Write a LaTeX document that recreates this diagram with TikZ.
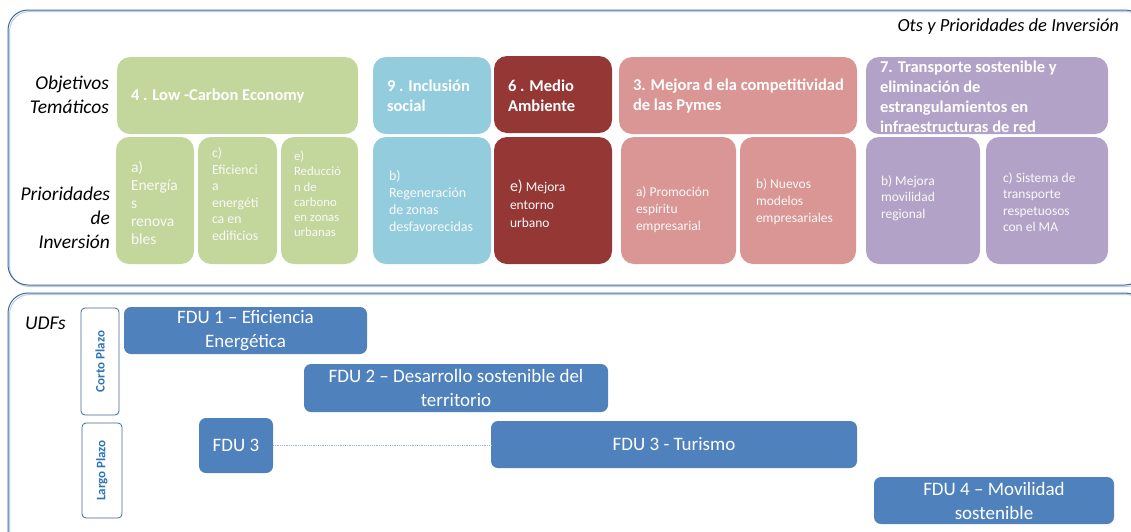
\documentclass[tikz,border=0pt]{standalone}
\usepackage{fontspec}
\setmainfont{Carlito}
\definecolor{gr}{HTML}{C3D69B}
\definecolor{bl}{HTML}{93CDDD}
\definecolor{rd}{HTML}{953735}
\definecolor{pk}{HTML}{D99694}
\definecolor{pu}{HTML}{B3A2C7}
\definecolor{fdu}{HTML}{4F81BD}
\definecolor{frm}{HTML}{41679A}
\definecolor{frl}{HTML}{B9CDE5}
\definecolor{plazo}{HTML}{2E75B6}
\definecolor{dots}{HTML}{8EB4E3}
\newcommand\rbox[6]{%
  \pgfmathsetmacro\myBW{#5-#3}\pgfmathsetmacro\myBH{#6-#4}%
  \node[#1, minimum width=\myBW pt, minimum height=\myBH pt, anchor=north west] (#2) at (#3,#4) {};}
\tikzset{
  base/.style={inner sep=0pt, outer sep=0pt, draw=none},
  cbox/.style={base, rounded corners=13pt},
  gbox/.style={cbox, fill=gr},
  bbox/.style={cbox, fill=bl},
  rbx/.style={cbox, fill=rd},
  pbox/.style={cbox, fill=pk},
  ubox/.style={cbox, fill=pu},
  fbox/.style={base, fill=fdu, rounded corners=7pt, text=white, align=center,
     font=\fontsize{19}{24}\selectfont},
  plbox/.style={base, draw=frm, line width=0.8pt, fill=white, rounded corners=4pt},
  pltxt/.style={base, rotate=90, text=plazo, font=\fontsize{13}{15}\selectfont\bfseries},
  head/.style={base, anchor=west, align=left, text=white, font=\fontsize{16.5}{20}\selectfont\bfseries},
  sub/.style={base, anchor=west, align=left, text=white!95!gray},
  lab/.style={base, align=right, font=\fontsize{19.5}{24}\selectfont\itshape},
  frame/.style={draw=frm, line width=1pt, rounded corners=20pt},
  frameshade/.style={draw=frl, line width=1pt, rounded corners=20pt},
  link/.style={draw=dots, line width=0.8pt, densely dotted}
}
\begin{document}
\begin{tikzpicture}[x=1pt,y=-1pt]
\useasboundingbox (0,0) rectangle (1131,531);
\clip (0,0) rectangle (1131,531);
% frames
\draw[frameshade] (9.5,11.5) rectangle (1146,286.5);
\draw[frame] (8,10) rectangle (1145,285);
\draw[frameshade] (9.5,294.5) rectangle (1146,560);
\draw[frame] (8,293) rectangle (1145,560);
% labels
\node[base, anchor=east, font=\fontsize{18.5}{20}\selectfont\itshape] (title) at (1119,27) {Ots y Prioridades de Inversión};
\node[lab, anchor=east] (obj) at (109,95) {Objetivos\\Temáticos};
\node[lab, anchor=east] (prio) at (110,218) {Prioridades\\de\\Inversión};
% green
\rbox{gbox}{g0}{117}{57}{358}{134}
\rbox{gbox}{ga}{116}{137}{194}{264}
\rbox{gbox}{gc}{198}{137}{277}{264}
\rbox{gbox}{ge}{281}{137}{358}{264}
\node[head] (g0t) at (131,96) {4 . Low -Carbon Economy};
\node[sub, font=\fontsize{15.5}{18}\selectfont] (gat) at (131,203) {a)\\Energía\\s\\renova\\bles};
\node[sub, font=\fontsize{13.8}{16.5}\selectfont] (gct) at (212,194) {c)\\Eficienci\\a\\energéti\\ca en\\edificios};
\node[sub, font=\fontsize{12.8}{15.2}\selectfont] (get) at (294,194) {e)\\Reducció\\n de\\carbono\\en zonas\\urbanas};
% blue
\rbox{bbox}{b0}{373}{57}{491}{134}
\rbox{bbox}{bb}{373}{137}{491}{264}
\node[head] (b0t) at (387,96) {9 . Inclusión\\social};
\node[sub, font=\fontsize{14}{17}\selectfont] (bbt) at (389,201) {b)\\Regeneración\\de zonas\\desfavorecidas};
% dark red
\rbox{rbx}{r0}{494}{56}{612}{133}
\rbox{rbx}{re}{494}{137}{612}{264}
\node[head] (r0t) at (508,96) {6 . Medio\\Ambiente};
\node[sub, font=\fontsize{13.5}{18}\selectfont] (ret) at (510,204) {{\fontsize{16}{18}\selectfont e)} Mejora\\entorno\\urbano};
% pink
\rbox{pbox}{p0}{619}{57}{857}{134}
\rbox{pbox}{pa}{621}{137}{736}{264}
\rbox{pbox}{pb}{740}{137}{856}{264}
\node[head] (p0t) at (633,96) {3. Mejora d ela competitividad\\de las Pymes};
\node[sub, font=\fontsize{13.5}{17}\selectfont] (pat) at (636,210) {a) Promoción\\espíritu\\empresarial};
\node[sub, font=\fontsize{13.5}{17}\selectfont] (pbt) at (756,202) {b) Nuevos\\modelos\\empresariales};
% purple
\rbox{ubox}{u0}{866}{57}{1108}{134}
\rbox{ubox}{ub}{866}{137}{980}{264}
\rbox{ubox}{uc}{986}{137}{1108}{264}
\node[head] (u0t) at (880,97) {7. Transporte sostenible y\\eliminación de\\estrangulamientos en\\infraestructuras de red};
\node[sub, font=\fontsize{13.5}{16.5}\selectfont] (ubt) at (881,198) {b) Mejora\\movilidad\\regional};
\node[sub, font=\fontsize{13.5}{16.5}\selectfont] (uct) at (1003,202) {c) Sistema de\\transporte\\respetuosos\\con el MA};
% UDFs
\node[base, anchor=west, font=\fontsize{19.5}{22}\selectfont\itshape] (udf) at (25,323) {UDFs};
\rbox{plbox}{corto}{81}{308}{119}{415}
\rbox{plbox}{largo}{82}{423}{122}{518}
\node[pltxt] (cortot) at (corto.center) {Corto Plazo};
\node[pltxt] (largot) at (largo.center) {Largo Plazo};
% FDU boxes
\node[fbox, minimum width=243pt, minimum height=47pt, anchor=north west] (f1) at (124,307) {FDU 1 – Eficiencia\\Energética};
\node[fbox, minimum width=304pt, minimum height=48pt, anchor=north west] (f2) at (304,364) {FDU 2 – Desarrollo sostenible del\\territorio};
\node[fbox, minimum width=74pt, minimum height=55pt, anchor=north west] (f3) at (199,418) {FDU 3};
\node[fbox, minimum width=366pt, minimum height=47pt, anchor=north west] (f3t) at (491,421) {FDU 3 - Turismo};
\node[fbox, minimum width=240pt, minimum height=47pt, anchor=north west] (f4) at (874,477) {FDU 4 – Movilidad\\sostenible};
\draw[link] (f3.east) -- (f3t.west |- f3.east);
\end{tikzpicture}
\end{document}
